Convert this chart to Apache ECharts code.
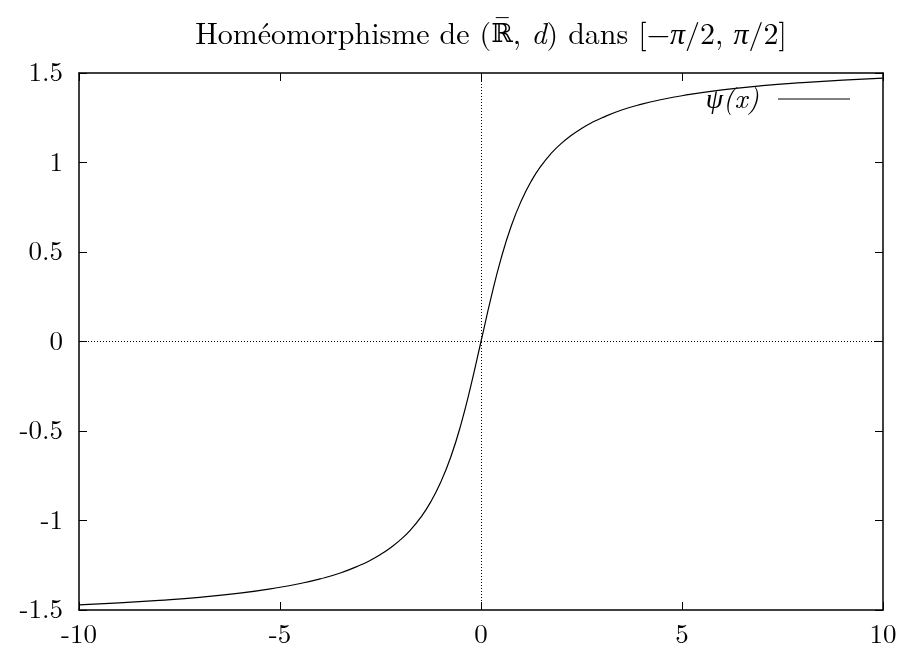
<!DOCTYPE html>
<html>
<head>
<meta charset="utf-8">
<script src="https://cdn.jsdelivr.net/npm/echarts@6/dist/echarts.min.js"></script>
<style>html,body{margin:0;padding:0;background:#fff;}#c{width:905px;height:648px;}</style>
</head>
<body>
<div id="c"></div>
<script>
var xValues = [-10, -9, -8, -7, -6, -5, -4.5, -4, -3.5, -3, -2.75, -2.5, -2.25, -2, -1.75, -1.5, -1.25, -1, -0.75, -0.5, -0.25, 0, 0.25, 0.5, 0.75, 1, 1.25, 1.5, 1.75, 2, 2.25, 2.5, 2.75, 3, 3.5, 4, 4.5, 5, 6, 7, 8, 9, 10];
var psiValues = [-1.471, -1.460, -1.446, -1.429, -1.406, -1.373, -1.352, -1.326, -1.293, -1.249, -1.222, -1.190, -1.152, -1.107, -1.052, -0.983, -0.896, -0.785, -0.644, -0.464, -0.245, 0, 0.245, 0.464, 0.644, 0.785, 0.896, 0.983, 1.052, 1.107, 1.152, 1.190, 1.222, 1.249, 1.293, 1.326, 1.352, 1.373, 1.406, 1.429, 1.446, 1.460, 1.471];
var xTicks = [-10, -5, 0, 5, 10];
var yTicks = [-1.5, -1, -0.5, 0, 0.5, 1, 1.5];
var seriesName = 'ψ(x)';

var font = '"Latin Modern Roman","CMU Serif","Liberation Serif","DejaVu Serif",serif';
var chart = echarts.init(document.getElementById('c'), null, {renderer: 'canvas'});
var points = xValues.map(function (x, i) { return [x, psiValues[i]]; });

var tickCommon = {show: true, inside: true, length: 8, lineStyle: {color: '#000', width: 1}};
var lineCommon = {show: true, onZero: false, lineStyle: {color: '#000', width: 1.5}};

chart.setOption({
  animation: false,
  backgroundColor: '#fff',
  title: {
    text: '{n|Homéomorphisme de (}{r|ℝ\u0305}{n|, }{i|d}{n|) dans [−}{i|π}{n|/2, }{i|π}{n|/2]}',
    left: 486, textAlign: 'center', top: 15,
    textStyle: {
      fontWeight: 'normal',
      rich: {
        n: {fontFamily: font, fontSize: 30, fontWeight: 'normal', color: '#000'},
        r: {fontFamily: '"DejaVu Serif",serif', fontSize: 26, fontWeight: 'normal', color: '#000'},
        i: {fontFamily: font, fontSize: 30, fontStyle: 'italic', fontWeight: 'normal', color: '#000'}
      }
    }
  },
  legend: {
    show: true,
    right: 50, top: 80,
    align: 'right',
    itemWidth: 72, itemHeight: 14,
    itemGap: 10,
    data: [{name: seriesName, icon: 'path://M0,7 L72,7 L72,8 L0,8 Z'}],
    textStyle: {fontFamily: font, fontSize: 28, fontStyle: 'italic', color: '#000', padding: [0, 14, 0, 0]}
  },
  grid: {left: 79, right: 22, top: 73, bottom: 37, containLabel: false},
  xAxis: [{
    type: 'value', min: -10, max: 10, interval: 5, position: 'bottom',
    axisLine: lineCommon, axisTick: tickCommon, splitLine: {show: false},
    axisLabel: {show: true, margin: 11, fontFamily: font, fontSize: 27, color: '#000',
      formatter: function (v) { return xTicks.indexOf(v) >= 0 ? String(v) : ''; }}
  }, {
    type: 'value', min: -10, max: 10, interval: 5, position: 'top',
    axisLine: lineCommon, axisTick: tickCommon, splitLine: {show: false},
    axisLabel: {show: false}
  }],
  yAxis: [{
    type: 'value', min: -1.5, max: 1.5, interval: 0.5, position: 'left',
    axisLine: lineCommon, axisTick: tickCommon, splitLine: {show: false},
    axisLabel: {show: true, margin: 16, fontFamily: font, fontSize: 27, color: '#000',
      formatter: function (v) { return yTicks.indexOf(v) >= 0 ? String(v) : ''; }}
  }, {
    type: 'value', min: -1.5, max: 1.5, interval: 0.5, position: 'right',
    axisLine: lineCommon, axisTick: tickCommon, splitLine: {show: false},
    axisLabel: {show: false}
  }],
  series: [{
    name: seriesName,
    type: 'line',
    data: points,
    smooth: true,
    showSymbol: false,
    symbol: 'none',
    lineStyle: {color: '#000', width: 1.2},
    itemStyle: {color: '#000'},
    markLine: {
      silent: true,
      symbol: ['none', 'none'],
      label: {show: false},
      lineStyle: {color: '#000', width: 1, type: [1, 2]},
      data: [{xAxis: 0}, {yAxis: 0}]
    },
    z: 3
  }]
});
</script>
</body>
</html>
